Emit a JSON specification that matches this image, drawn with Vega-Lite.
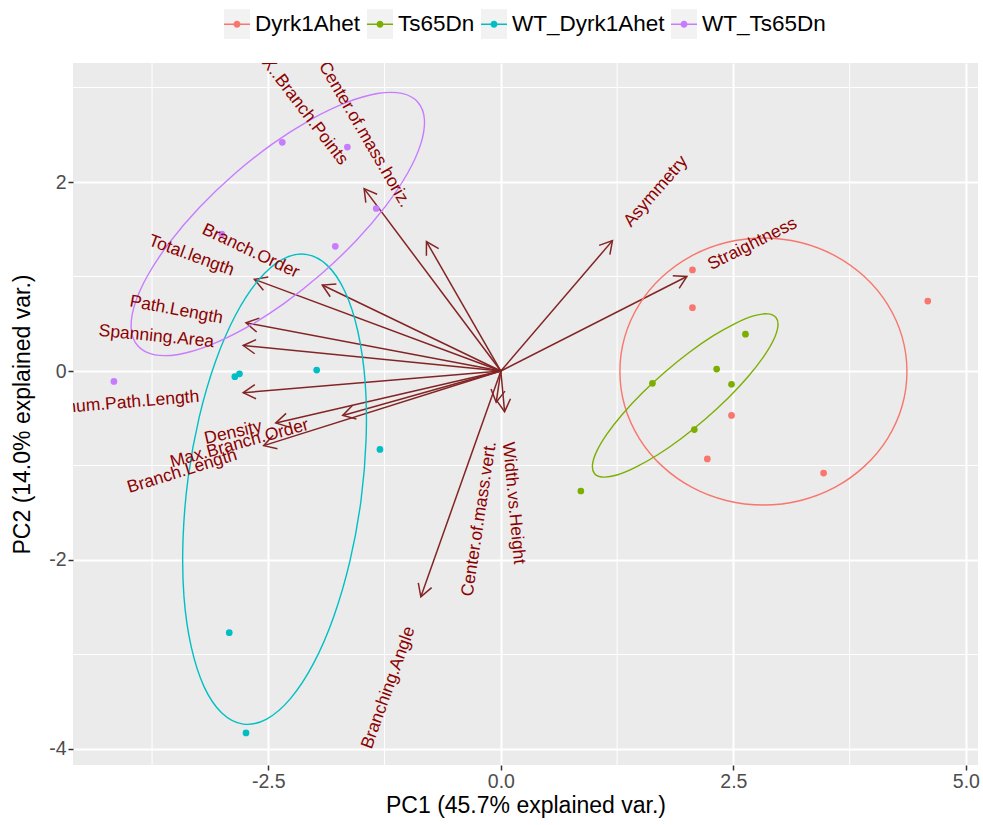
{
  "$schema": "https://vega.github.io/schema/vega-lite/v6.json",
  "width": 905,
  "height": 702,
  "autosize": "none",
  "padding": {"left": 73, "top": 63, "right": 5, "bottom": 60},
  "background": "white",
  "config": {
    "font": "Liberation Sans",
    "view": {"fill": "#EBEBEB", "stroke": null},
    "locale": {"number": {"decimal": ".", "thousands": ",", "grouping": [3], "currency": ["$", ""], "minus": "-"}},
    "axis": {
      "grid": true, "gridColor": "white", "gridWidth": 2,
      "domain": false,
      "tickColor": "#333333", "tickWidth": 1.5, "tickSize": 5,
      "labelColor": "#4D4D4D", "labelFont": "Liberation Sans", "labelFontSize": 19.5, "labelPadding": 2,
      "titleFont": "Liberation Sans", "titleFontSize": 23, "titleFontWeight": "normal", "titleColor": "black"
    },
    "legend": {
      "orient": "none",
      "legendX": 151,
      "legendY": -52,
      "direction": "horizontal",
      "columns": 4,
      "padding": 0,
      "symbolSize": 676,
      "symbolStrokeWidth": 0,
      "symbolOpacity": 1,
      "labelFont": "Liberation Sans",
      "labelFontSize": 22.5,
      "labelLimit": 0,
      "labelColor": "black",
      "labelOffset": 5,
      "columnPadding": 6
    }
  },
  "datasets": {
    "scores": [
      {"group": "Dyrk1Ahet", "x": 2.06, "y": 1.07},
      {"group": "Dyrk1Ahet", "x": 2.06, "y": 0.67},
      {"group": "Dyrk1Ahet", "x": 4.59, "y": 0.74},
      {"group": "Dyrk1Ahet", "x": 2.48, "y": -0.47},
      {"group": "Dyrk1Ahet", "x": 2.22, "y": -0.93},
      {"group": "Dyrk1Ahet", "x": 3.47, "y": -1.08},
      {"group": "Ts65Dn", "x": 2.63, "y": 0.39},
      {"group": "Ts65Dn", "x": 2.32, "y": 0.02},
      {"group": "Ts65Dn", "x": 2.48, "y": -0.14},
      {"group": "Ts65Dn", "x": 1.63, "y": -0.13},
      {"group": "Ts65Dn", "x": 2.08, "y": -0.62},
      {"group": "Ts65Dn", "x": 0.86, "y": -1.27},
      {"group": "WT_Dyrk1Ahet", "x": -2.86, "y": -0.06},
      {"group": "WT_Dyrk1Ahet", "x": -2.81, "y": -0.03},
      {"group": "WT_Dyrk1Ahet", "x": -1.98, "y": 0.01},
      {"group": "WT_Dyrk1Ahet", "x": -1.30, "y": -0.83},
      {"group": "WT_Dyrk1Ahet", "x": -2.92, "y": -2.77},
      {"group": "WT_Dyrk1Ahet", "x": -2.74, "y": -3.83},
      {"group": "WT_Ts65Dn", "x": -4.16, "y": -0.11},
      {"group": "WT_Ts65Dn", "x": -2.35, "y": 2.42},
      {"group": "WT_Ts65Dn", "x": -1.65, "y": 2.37},
      {"group": "WT_Ts65Dn", "x": -1.34, "y": 1.72},
      {"group": "WT_Ts65Dn", "x": -1.78, "y": 1.32},
      {"group": "WT_Ts65Dn", "x": -3.00, "y": 1.45}
    ],
    "vectors": [
      {"name": "X..Branch.Points", "x": -1.47, "y": 1.93, "lx": -1.684, "ly": 2.201},
      {"name": "Center.of.mass.horiz.", "x": -0.80, "y": 1.37, "lx": -1.018, "ly": 1.747},
      {"name": "Asymmetry", "x": 1.20, "y": 1.38, "lx": 1.358, "ly": 1.551},
      {"name": "Straightness", "x": 2.00, "y": 1.00, "lx": 2.237, "ly": 1.114},
      {"name": "Branch.Order", "x": -1.92, "y": 0.91, "lx": -2.180, "ly": 1.031},
      {"name": "Total.length", "x": -2.65, "y": 0.97, "lx": -2.876, "ly": 1.058},
      {"name": "Path.Length", "x": -2.74, "y": 0.51, "lx": -2.991, "ly": 0.554},
      {"name": "Spanning.Area", "x": -2.77, "y": 0.27, "lx": -3.084, "ly": 0.306},
      {"name": "Maximum.Path.Length", "x": -2.77, "y": -0.23, "lx": -3.243, "ly": -0.272},
      {"name": "Density", "x": -2.42, "y": -0.55, "lx": -2.572, "ly": -0.585},
      {"name": "Branch.Length", "x": -2.55, "y": -0.79, "lx": -2.841, "ly": -0.885},
      {"name": "Max.Branch.Order", "x": -1.70, "y": -0.47, "lx": -2.069, "ly": -0.567},
      {"name": "Branching.Angle", "x": -0.86, "y": -2.39, "lx": -0.975, "ly": -2.712},
      {"name": "Center.of.mass.vert.", "x": -0.05, "y": -0.33, "lx": -0.106, "ly": -0.746},
      {"name": "Width.vs.Height", "x": 0.04, "y": -0.43, "lx": 0.075, "ly": -0.753}
    ],
    "ellipses": [
      {"group": "Dyrk1Ahet", "t": 0, "x": 4.366, "y": -0.005},
      {"group": "Dyrk1Ahet", "t": 15, "x": 4.314, "y": 0.361},
      {"group": "Dyrk1Ahet", "t": 30, "x": 4.159, "y": 0.702},
      {"group": "Dyrk1Ahet", "t": 45, "x": 3.914, "y": 0.994},
      {"group": "Dyrk1Ahet", "t": 60, "x": 3.595, "y": 1.219},
      {"group": "Dyrk1Ahet", "t": 75, "x": 3.223, "y": 1.360},
      {"group": "Dyrk1Ahet", "t": 90, "x": 2.823, "y": 1.408},
      {"group": "Dyrk1Ahet", "t": 105, "x": 2.423, "y": 1.360},
      {"group": "Dyrk1Ahet", "t": 120, "x": 2.051, "y": 1.219},
      {"group": "Dyrk1Ahet", "t": 135, "x": 1.732, "y": 0.994},
      {"group": "Dyrk1Ahet", "t": 150, "x": 1.487, "y": 0.702},
      {"group": "Dyrk1Ahet", "t": 165, "x": 1.332, "y": 0.361},
      {"group": "Dyrk1Ahet", "t": 180, "x": 1.280, "y": -0.005},
      {"group": "Dyrk1Ahet", "t": 195, "x": 1.332, "y": -0.371},
      {"group": "Dyrk1Ahet", "t": 210, "x": 1.487, "y": -0.712},
      {"group": "Dyrk1Ahet", "t": 225, "x": 1.732, "y": -1.004},
      {"group": "Dyrk1Ahet", "t": 240, "x": 2.051, "y": -1.229},
      {"group": "Dyrk1Ahet", "t": 255, "x": 2.423, "y": -1.370},
      {"group": "Dyrk1Ahet", "t": 270, "x": 2.823, "y": -1.418},
      {"group": "Dyrk1Ahet", "t": 285, "x": 3.223, "y": -1.370},
      {"group": "Dyrk1Ahet", "t": 300, "x": 3.595, "y": -1.229},
      {"group": "Dyrk1Ahet", "t": 315, "x": 3.914, "y": -1.004},
      {"group": "Dyrk1Ahet", "t": 330, "x": 4.159, "y": -0.712},
      {"group": "Dyrk1Ahet", "t": 345, "x": 4.314, "y": -0.371},
      {"group": "Ts65Dn", "t": 0, "x": 2.956, "y": 0.569},
      {"group": "Ts65Dn", "t": 15, "x": 2.867, "y": 0.605},
      {"group": "Ts65Dn", "t": 30, "x": 2.716, "y": 0.583},
      {"group": "Ts65Dn", "t": 45, "x": 2.518, "y": 0.502},
      {"group": "Ts65Dn", "t": 60, "x": 2.281, "y": 0.371},
      {"group": "Ts65Dn", "t": 75, "x": 2.024, "y": 0.196},
      {"group": "Ts65Dn", "t": 90, "x": 1.765, "y": -0.010},
      {"group": "Ts65Dn", "t": 105, "x": 1.520, "y": -0.232},
      {"group": "Ts65Dn", "t": 120, "x": 1.307, "y": -0.457},
      {"group": "Ts65Dn", "t": 135, "x": 1.140, "y": -0.668},
      {"group": "Ts65Dn", "t": 150, "x": 1.030, "y": -0.851},
      {"group": "Ts65Dn", "t": 165, "x": 0.985, "y": -0.995},
      {"group": "Ts65Dn", "t": 180, "x": 1.008, "y": -1.087},
      {"group": "Ts65Dn", "t": 195, "x": 1.097, "y": -1.123},
      {"group": "Ts65Dn", "t": 210, "x": 1.248, "y": -1.101},
      {"group": "Ts65Dn", "t": 225, "x": 1.446, "y": -1.020},
      {"group": "Ts65Dn", "t": 240, "x": 1.683, "y": -0.889},
      {"group": "Ts65Dn", "t": 255, "x": 1.940, "y": -0.714},
      {"group": "Ts65Dn", "t": 270, "x": 2.199, "y": -0.508},
      {"group": "Ts65Dn", "t": 285, "x": 2.444, "y": -0.286},
      {"group": "Ts65Dn", "t": 300, "x": 2.657, "y": -0.061},
      {"group": "Ts65Dn", "t": 315, "x": 2.824, "y": 0.150},
      {"group": "Ts65Dn", "t": 330, "x": 2.934, "y": 0.333},
      {"group": "Ts65Dn", "t": 345, "x": 2.979, "y": 0.477},
      {"group": "WT_Dyrk1Ahet", "t": 0, "x": -2.096, "y": 1.235},
      {"group": "WT_Dyrk1Ahet", "t": 15, "x": -2.348, "y": 1.182},
      {"group": "WT_Dyrk1Ahet", "t": 30, "x": -2.606, "y": 0.963},
      {"group": "WT_Dyrk1Ahet", "t": 45, "x": -2.852, "y": 0.593},
      {"group": "WT_Dyrk1Ahet", "t": 60, "x": -3.069, "y": 0.098},
      {"group": "WT_Dyrk1Ahet", "t": 75, "x": -3.243, "y": -0.489},
      {"group": "WT_Dyrk1Ahet", "t": 90, "x": -3.362, "y": -1.129},
      {"group": "WT_Dyrk1Ahet", "t": 105, "x": -3.417, "y": -1.777},
      {"group": "WT_Dyrk1Ahet", "t": 120, "x": -3.407, "y": -2.388},
      {"group": "WT_Dyrk1Ahet", "t": 135, "x": -3.328, "y": -2.923},
      {"group": "WT_Dyrk1Ahet", "t": 150, "x": -3.190, "y": -3.343},
      {"group": "WT_Dyrk1Ahet", "t": 165, "x": -3.000, "y": -3.620},
      {"group": "WT_Dyrk1Ahet", "t": 180, "x": -2.770, "y": -3.737},
      {"group": "WT_Dyrk1Ahet", "t": 195, "x": -2.518, "y": -3.684},
      {"group": "WT_Dyrk1Ahet", "t": 210, "x": -2.260, "y": -3.465},
      {"group": "WT_Dyrk1Ahet", "t": 225, "x": -2.014, "y": -3.095},
      {"group": "WT_Dyrk1Ahet", "t": 240, "x": -1.797, "y": -2.600},
      {"group": "WT_Dyrk1Ahet", "t": 255, "x": -1.623, "y": -2.013},
      {"group": "WT_Dyrk1Ahet", "t": 270, "x": -1.504, "y": -1.373},
      {"group": "WT_Dyrk1Ahet", "t": 285, "x": -1.449, "y": -0.725},
      {"group": "WT_Dyrk1Ahet", "t": 300, "x": -1.459, "y": -0.114},
      {"group": "WT_Dyrk1Ahet", "t": 315, "x": -1.538, "y": 0.421},
      {"group": "WT_Dyrk1Ahet", "t": 330, "x": -1.676, "y": 0.841},
      {"group": "WT_Dyrk1Ahet", "t": 345, "x": -1.866, "y": 1.118},
      {"group": "WT_Ts65Dn", "t": 0, "x": -0.892, "y": 2.845},
      {"group": "WT_Ts65Dn", "t": 15, "x": -1.064, "y": 2.938},
      {"group": "WT_Ts65Dn", "t": 30, "x": -1.328, "y": 2.937},
      {"group": "WT_Ts65Dn", "t": 45, "x": -1.663, "y": 2.841},
      {"group": "WT_Ts65Dn", "t": 60, "x": -2.049, "y": 2.659},
      {"group": "WT_Ts65Dn", "t": 75, "x": -2.459, "y": 2.401},
      {"group": "WT_Ts65Dn", "t": 90, "x": -2.865, "y": 2.085},
      {"group": "WT_Ts65Dn", "t": 105, "x": -3.239, "y": 1.733},
      {"group": "WT_Ts65Dn", "t": 120, "x": -3.555, "y": 1.369},
      {"group": "WT_Ts65Dn", "t": 135, "x": -3.793, "y": 1.019},
      {"group": "WT_Ts65Dn", "t": 150, "x": -3.936, "y": 0.705},
      {"group": "WT_Ts65Dn", "t": 165, "x": -3.974, "y": 0.448},
      {"group": "WT_Ts65Dn", "t": 180, "x": -3.904, "y": 0.267},
      {"group": "WT_Ts65Dn", "t": 195, "x": -3.732, "y": 0.174},
      {"group": "WT_Ts65Dn", "t": 210, "x": -3.468, "y": 0.175},
      {"group": "WT_Ts65Dn", "t": 225, "x": -3.133, "y": 0.271},
      {"group": "WT_Ts65Dn", "t": 240, "x": -2.747, "y": 0.453},
      {"group": "WT_Ts65Dn", "t": 255, "x": -2.337, "y": 0.711},
      {"group": "WT_Ts65Dn", "t": 270, "x": -1.931, "y": 1.027},
      {"group": "WT_Ts65Dn", "t": 285, "x": -1.557, "y": 1.379},
      {"group": "WT_Ts65Dn", "t": 300, "x": -1.241, "y": 1.743},
      {"group": "WT_Ts65Dn", "t": 315, "x": -1.003, "y": 2.093},
      {"group": "WT_Ts65Dn", "t": 330, "x": -0.860, "y": 2.407},
      {"group": "WT_Ts65Dn", "t": 345, "x": -0.822, "y": 2.664}
    ],
    "minorX": [{"x": -3.75}, {"x": -1.25}, {"x": 1.25}, {"x": 3.75}],
    "minorY": [{"y": -3}, {"y": -1}, {"y": 1}, {"y": 3}]
  },
  "layer": [
    {
      "data": {"name": "minorX"},
      "mark": {"type": "rule", "color": "white", "strokeWidth": 1},
      "encoding": {
        "x": {"field": "x", "type": "quantitative", "title": "PC1 (45.7% explained var.)", "scale": {"domain": [-4.6, 5.13], "nice": false, "zero": false}}
      }
    },
    {
      "data": {"name": "minorY"},
      "mark": {"type": "rule", "color": "white", "strokeWidth": 1},
      "encoding": {
        "y": {"field": "y", "type": "quantitative", "title": "PC2 (14.0% explained var.)", "scale": {"domain": [-4.17, 3.26], "nice": false, "zero": false}}
      }
    },
    {
      "data": {"name": "scores"},
      "transform": [{"calculate": "datum.group", "as": "key"}],
      "mark": {"type": "point", "filled": true, "color": "#F2F2F2", "size": 45, "opacity": 0},
      "encoding": {
        "x": {"field": "x", "type": "quantitative", "title": "PC1 (45.7% explained var.)", "scale": {"domain": [-4.6, 5.13], "nice": false, "zero": false}},
        "y": {"field": "y", "type": "quantitative", "title": "PC2 (14.0% explained var.)", "scale": {"domain": [-4.17, 3.26], "nice": false, "zero": false}},
        "shape": {
          "field": "key", "type": "nominal",
          "scale": {"range": ["M-1,-1.15H1V1.15H-1Z", "M-1,-1.15H1V1.15H-1Z", "M-1,-1.15H1V1.15H-1Z", "M-1,-1.15H1V1.15H-1Z"]},
          "legend": {"title": null, "zindex": 0, "symbolFillColor": "#F2F2F2", "symbolOpacity": 1, "labelColor": "transparent"}
        }
      }
    },
    {
      "data": {"name": "vectors"},
      "mark": {"type": "rule", "color": "#832424", "strokeWidth": 1.5},
      "encoding": {
        "x": {"field": "x", "type": "quantitative", "title": "PC1 (45.7% explained var.)", "scale": {"domain": [-4.6, 5.13], "nice": false, "zero": false}},
        "y": {"field": "y", "type": "quantitative", "title": "PC2 (14.0% explained var.)", "scale": {"domain": [-4.17, 3.26], "nice": false, "zero": false}},
        "x2": {"datum": 0},
        "y2": {"datum": 0}
      }
    },
    {
      "data": {"name": "vectors"},
      "transform": [
        {"calculate": "atan2(-datum.y * 94.5, datum.x * 93) * 180 / PI", "as": "headAngle"}
      ],
      "mark": {"type": "point", "shape": "M-1,-0.577L0,0L-1,0.577", "filled": false, "stroke": "#832424", "strokeWidth": 1.5, "size": 600, "opacity": 1},
      "encoding": {
        "x": {"field": "x", "type": "quantitative", "title": "PC1 (45.7% explained var.)", "scale": {"domain": [-4.6, 5.13], "nice": false, "zero": false}},
        "y": {"field": "y", "type": "quantitative", "title": "PC2 (14.0% explained var.)", "scale": {"domain": [-4.17, 3.26], "nice": false, "zero": false}},
        "angle": {"field": "headAngle", "type": "quantitative", "scale": null}
      }
    },
    {
      "data": {"name": "scores"},
      "mark": {"type": "point", "filled": true, "size": 45, "opacity": 1},
      "encoding": {
        "x": {
          "field": "x", "type": "quantitative", "title": "PC1 (45.7% explained var.)",
          "scale": {"domain": [-4.6, 5.13], "nice": false, "zero": false},
          "axis": {"values": [-2.5, 0, 2.5, 5], "format": ".1f", "titlePadding": 4}
        },
        "y": {
          "field": "y", "type": "quantitative", "title": "PC2 (14.0% explained var.)",
          "scale": {"domain": [-4.17, 3.26], "nice": false, "zero": false},
          "axis": {"values": [-4, -2, 0, 2], "format": "d", "titlePadding": 14}
        },
        "color": {
          "field": "group", "type": "nominal",
          "scale": {"domain": ["Dyrk1Ahet", "Ts65Dn", "WT_Dyrk1Ahet", "WT_Ts65Dn"], "range": ["#F8766D", "#7CAE00", "#00BFC4", "#C77CFF"]},
          "legend": {
            "title": null,
            "zindex": 1,
            "symbolType": "M-1,-0.06H1V0.06H-1Z M0.27,0A0.27,0.27 0 1,1 -0.27,0A0.27,0.27 0 1,1 0.27,0Z"
          }
        }
      }
    },
    {
      "data": {"name": "ellipses"},
      "mark": {"type": "line", "interpolate": "cardinal-closed", "strokeWidth": 1.4},
      "encoding": {
        "x": {"field": "x", "type": "quantitative", "title": "PC1 (45.7% explained var.)", "scale": {"domain": [-4.6, 5.13], "nice": false, "zero": false}},
        "y": {"field": "y", "type": "quantitative", "title": "PC2 (14.0% explained var.)", "scale": {"domain": [-4.17, 3.26], "nice": false, "zero": false}},
        "stroke": {
          "field": "group", "type": "nominal",
          "scale": {"domain": ["Dyrk1Ahet", "Ts65Dn", "WT_Dyrk1Ahet", "WT_Ts65Dn"], "range": ["#F8766D", "#7CAE00", "#00BFC4", "#C77CFF"]},
          "legend": null
        },
        "order": {"field": "t", "type": "quantitative"}
      }
    },
    {
      "data": {"name": "vectors"},
      "transform": [
        {"filter": "datum.x < 0"},
        {"calculate": "-atan(datum.y / datum.x) * 180 / PI", "as": "textAngle"}
      ],
      "mark": {"type": "text", "align": "right", "baseline": "middle", "font": "Liberation Sans", "fontSize": 17.5, "color": "#8B0000", "clip": true},
      "encoding": {
        "x": {"field": "lx", "type": "quantitative", "title": "PC1 (45.7% explained var.)", "scale": {"domain": [-4.6, 5.13], "nice": false, "zero": false}},
        "y": {"field": "ly", "type": "quantitative", "title": "PC2 (14.0% explained var.)", "scale": {"domain": [-4.17, 3.26], "nice": false, "zero": false}},
        "text": {"field": "name"},
        "angle": {"field": "textAngle", "type": "quantitative", "scale": null}
      }
    },
    {
      "data": {"name": "vectors"},
      "transform": [
        {"filter": "datum.x >= 0"},
        {"calculate": "-atan(datum.y / datum.x) * 180 / PI", "as": "textAngle"}
      ],
      "mark": {"type": "text", "align": "left", "baseline": "middle", "font": "Liberation Sans", "fontSize": 17.5, "color": "#8B0000", "clip": true},
      "encoding": {
        "x": {"field": "lx", "type": "quantitative", "title": "PC1 (45.7% explained var.)", "scale": {"domain": [-4.6, 5.13], "nice": false, "zero": false}},
        "y": {"field": "ly", "type": "quantitative", "title": "PC2 (14.0% explained var.)", "scale": {"domain": [-4.17, 3.26], "nice": false, "zero": false}},
        "text": {"field": "name"},
        "angle": {"field": "textAngle", "type": "quantitative", "scale": null}
      }
    }
  ]
}
